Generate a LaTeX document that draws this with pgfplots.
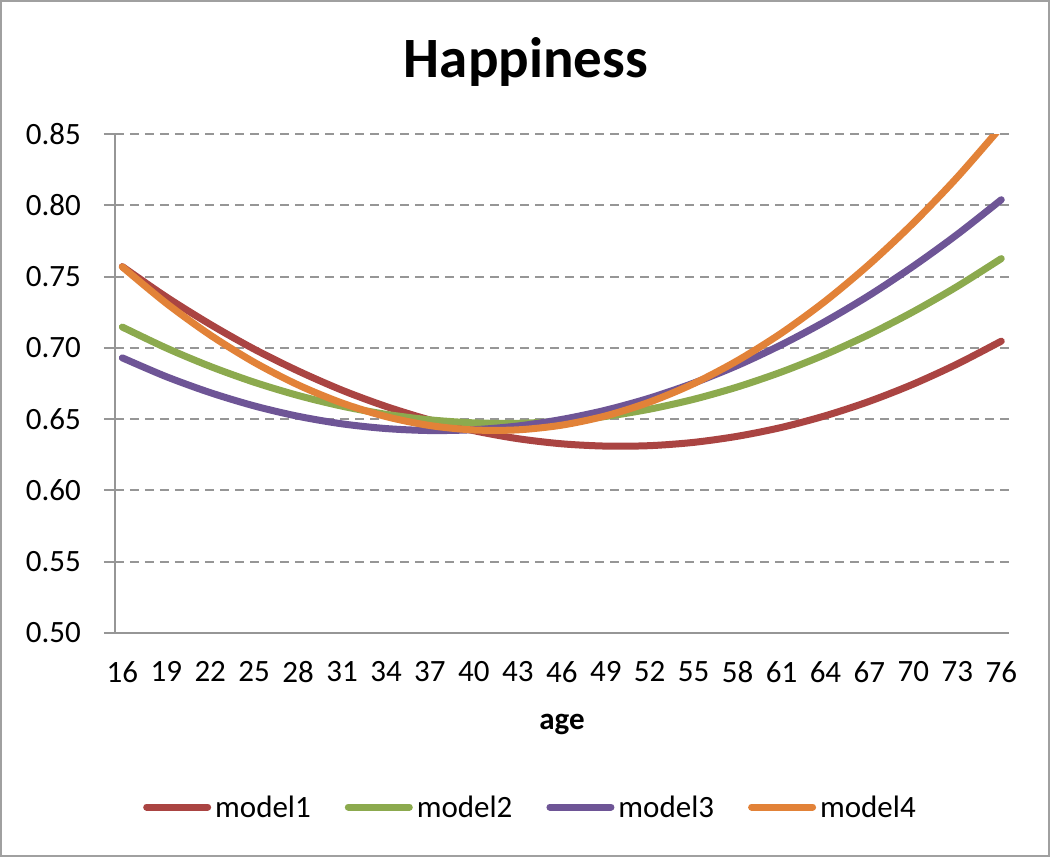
\documentclass[border=0pt]{standalone}
\usepackage{fontspec}
\setmainfont{Carlito}
\usepackage{pgfplots}
\pgfplotsset{compat=1.18}
\definecolor{mA}{RGB}{170,68,66}
\definecolor{mB}{RGB}{140,170,78}
\definecolor{mC}{RGB}{110,85,150}
\definecolor{mD}{RGB}{226,130,56}
\definecolor{gridgray}{RGB}{150,150,150}
\definecolor{framegray}{RGB}{160,160,160}
\pgfplotstableread{
age m1 m2 m3 m4
16 0.7570 0.7146 0.6930 0.7568
19 0.7357 0.6999 0.6798 0.7313
22 0.7165 0.6870 0.6686 0.7090
25 0.6991 0.6759 0.6593 0.6899
28 0.6838 0.6666 0.6520 0.6740
31 0.6703 0.6591 0.6467 0.6613
34 0.6589 0.6534 0.6434 0.6518
37 0.6494 0.6495 0.6420 0.6455
40 0.6419 0.6474 0.6426 0.6424
43 0.6363 0.6471 0.6452 0.6425
46 0.6327 0.6486 0.6498 0.6458
49 0.6311 0.6519 0.6563 0.6523
52 0.6314 0.6570 0.6648 0.6620
55 0.6337 0.6639 0.6753 0.6749
58 0.6380 0.6726 0.6877 0.6911
61 0.6442 0.6831 0.7022 0.7104
64 0.6524 0.6954 0.7186 0.7329
67 0.6625 0.7095 0.7369 0.7587
70 0.6746 0.7254 0.7573 0.7876
73 0.6887 0.7431 0.7796 0.8197
76 0.7047 0.7626 0.8039 0.8551
}\datatable
\begin{document}
\begin{tikzpicture}[x=1pt,y=1pt]
\useasboundingbox (-115,-224) rectangle (935,633);
\fill[white] (-115,-224) rectangle (935,633);
\draw[line width=2pt, framegray] (-114,-223) rectangle (934,632);
\begin{axis}[
  at={(0,0)}, anchor=south west,
  scale only axis, width=893.6pt, height=499pt,
  xmin=15.5, xmax=76.5, ymin=0.5, ymax=0.85,
  xtick={16,19,22,25,28,31,34,37,40,43,46,49,52,55,58,61,64,67,70,73,76},
  ytick={0.5,0.55,0.6,0.65,0.7,0.75,0.8,0.85},
  axis x line*=bottom, axis y line*=left,
  axis line style={draw=gridgray, line width=2pt},
  ymajorgrids,
  grid style={draw=gridgray, line width=2pt, dash pattern=on 9pt off 6pt},
  tick align=outside, major tick length=11pt,
  xtick style={draw=none},
  ytick style={draw=gridgray, line width=2pt},
  tick label style={font=\fontsize{31}{37}\selectfont},
  /pgf/number format/assume math mode=true,
  yticklabel style={/pgf/number format/.cd, fixed, fixed zerofill, precision=2, /tikz/.cd, anchor=east, inner sep=0pt, xshift=-23pt},
  xticklabel style={anchor=north, inner sep=0pt, yshift=-17pt},
  every axis plot/.append style={line width=7pt, line cap=round, line join=round, mark=none, smooth},
  legend columns=4,
  legend image code/.code={\draw[#1] (0pt,0pt) -- (61pt,0pt);},
  legend style={draw=none, fill=none, inner sep=0pt, at={(axis description cs:0.0313,-0.3487)}, anchor=west,
    font=\fontsize{31}{37}\selectfont,
    nodes={inner sep=0pt},
    /tikz/every odd column/.append style={column sep=4pt},
    /tikz/every even column/.append style={column sep=34pt}},
]
\addplot[mA] table[x=age, y=m1] {\datatable};
\addlegendentry{model1}
\addplot[mB] table[x=age, y=m2] {\datatable};
\addlegendentry{model2}
\addplot[mC] table[x=age, y=m3] {\datatable};
\addlegendentry{model3}
\addplot[mD] table[x=age, y=m4] {\datatable};
\addlegendentry{model4}
\end{axis}
\node[font=\fontsize{57}{63}\selectfont\bfseries, anchor=base] at (411,555) {Happiness};
\node[font=\fontsize{31}{37}\selectfont\bfseries, anchor=base] at (447,-96) {age};
\end{tikzpicture}
\end{document}
